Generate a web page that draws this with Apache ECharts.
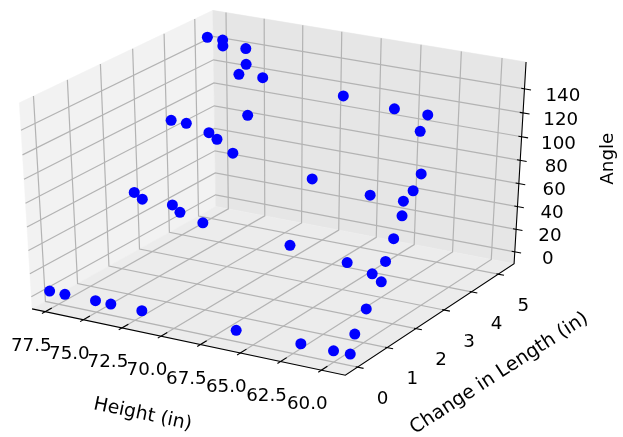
<!DOCTYPE html>
<html><body style="margin:0;background:#fff">
<div id="c" style="width:623px;height:437px"></div>
<script src="https://cdn.jsdelivr.net/npm/echarts@6/dist/echarts.min.js"></script>
<script>
// ---- view limits and perspective projection (elev 30, azim -60) ----
const xl0=78.37,xl1=58.54,yl0=-0.41,yl1=5.6,zl0=-10.7,zl1=162;
const cx=276.8,sx=3616,cy=186.6,sy=2353;
const C=Math.sqrt(3)/2;
function P(h,c,a){
  const x=(h-xl0)/(xl1-xl0)-.5,y=(c-yl0)/(yl1-yl0)-.5,z=(a-zl0)/(zl1-zl0)-.5;
  const X=C*x+.5*y, Y=-.25*x+.5*C*y+C*z, d=.5*C*x-.75*y+.5*z;
  return [cx+sx*X/(10-d),cy-sy*Y/(10-d)];
}
// ---- data ----
const heightsA = [78.32,77.31,75.30,74.30,72.29,66.28,62.25,60.24,59.22];
const changeA  = [0.12,0.12,0.12,0.12,0.12,0.12,0.12,0.12,0.12];
const angleA   = [-3.3,-3.4,-3.4,-3.5,-3.7,-3.6,-3.5,-3.7,-3.5];
const heightsB = heightsA;
const changeB  = [2.87,2.64,2.63,2.38,2.12,1.89,1.64,1.38,1.12];
const angleB   = [41.8,41.8,42.0,41.8,41.8,41.7,41.6,41.6,41.7];
const heightsC = heightsA;
const changeC  = [4.13,4.13,3.87,3.63,3.13,2.62,2.38,2.39,1.77];
const angleC   = [87.1,86.9,87.1,87.1,87.0,87.2,87.2,87.2,86.8];
const heightsD = heightsA;
const changeD  = [5.38,5.38,5.13,5.18,3.59,3.64,3.14,3.14,2.30];
const angleD   = [142.1,141.9,142.2,119.1,155.1,142.1,147.5,147.3,147.9];
const heightsE = [75.30,74.30,72.29,62.25,62.25,60.24,60.24,59.22,59.22];
const changeE  = [4.37,4.38,3.63,4.16,3.89,2.09,1.83,0.63,0.26];
const angleE   = [153.9,132.2,112.2,79.6,69.1,60.3,45.1,26.6,11.3];
const xTicks = [77.5,75,72.5,70,67.5,65,62.5,60];
const yTicks = [0,1,2,3,4,5];
const zTicks = [0,20,40,60,80,100,120,140];
const xTitle = 'Height (in)', yTitle = 'Change in Length (in)', zTitle = 'Angle';

const FONT='"DejaVu Sans"', FS=18.3;
const panes=[
  {fill:'#f2f2f2',pts:[P(xl0,yl0,zl0),P(xl0,yl1,zl0),P(xl0,yl1,zl1),P(xl0,yl0,zl1)]},
  {fill:'#e6e6e6',pts:[P(xl0,yl1,zl0),P(xl1,yl1,zl0),P(xl1,yl1,zl1),P(xl0,yl1,zl1)]},
  {fill:'#ececec',pts:[P(xl0,yl0,zl0),P(xl1,yl0,zl0),P(xl1,yl1,zl0),P(xl0,yl1,zl0)]}
];
const grid=[
  ...xTicks.map(h=>[P(h,yl0,zl0),P(h,yl1,zl0),P(h,yl1,zl1)]),
  ...yTicks.map(c=>[P(xl1,c,zl0),P(xl0,c,zl0),P(xl0,c,zl1)]),
  ...zTicks.map(a=>[P(xl1,yl1,a),P(xl0,yl1,a),P(xl0,yl0,a)])
];
const axes=[
  [P(xl0,yl0,zl0),P(xl1,yl0,zl0),P(xl1,yl1,zl0),P(xl1,yl1,zl1)],
  ...xTicks.map(h=>[P(h,yl0-.1,zl0),P(h,yl0+.2,zl0)]),
  ...yTicks.map(c=>[P(xl1+.12,c,zl0),P(xl1-.36,c,zl0)]),
  ...zTicks.map(a=>[P(xl1+.2,yl1,a),P(xl1-.4,yl1,a)])
];
function pane(){return {type:'custom',coordinateSystem:'cartesian2d',silent:true,z:1,clip:false,
  data:panes.map((p,i)=>[i]),
  renderItem:(ps,api)=>{const p=panes[api.value(0)];
    return {type:'polygon',shape:{points:p.pts.map(q=>api.coord(q))},style:{fill:p.fill,stroke:p.fill,lineWidth:.5}};}};}
function lines(list,color,w,z){return {type:'custom',coordinateSystem:'cartesian2d',silent:true,z:z,clip:false,
  data:list.map((p,i)=>[i]),
  renderItem:(ps,api)=>({type:'polyline',shape:{points:list[api.value(0)].map(q=>api.coord(q))},
    style:{fill:null,stroke:color,lineWidth:w}})};}
function labels(items,rot,fs){
  const lab={show:true,position:'inside',rotate:rot,fontFamily:FONT,fontSize:fs,color:'#000',textBorderWidth:0,opacity:1};
  return {type:'scatter',silent:true,z:5,symbolSize:1,itemStyle:{opacity:0},
  emphasis:{disabled:true},
  data:items.map(t=>({value:t.p,label:Object.assign({},lab,{formatter:t.text})})),
  label:lab};}
function add(v,dx,dy){return [v[0]+dx,v[1]+dy];}
const ptsOf=(H,Ch,A)=>H.map((h,i)=>P(h,Ch[i],A[i]));
const points=[...ptsOf(heightsA,changeA,angleA),...ptsOf(heightsB,changeB,angleB),...ptsOf(heightsC,changeC,angleC),
  ...ptsOf(heightsD,changeD,angleD),...ptsOf(heightsE,changeE,angleE)];

const chart=echarts.init(document.getElementById('c'),null,{renderer:'canvas'});
chart.setOption({
  animation:false,backgroundColor:'#fff',
  grid:{left:0,right:0,top:0,bottom:0},
  xAxis:{type:'value',min:0,max:623,show:false},
  yAxis:{type:'value',min:0,max:437,inverse:true,show:false},
  series:[
    pane(),
    lines(grid,'#b3b3b3',1.2,2),
    lines(axes,'#000',1.1,3),
    {type:'scatter',z:4,symbol:'circle',symbolSize:11,itemStyle:{color:'#0000ff',opacity:1},data:points},
    labels(xTicks.map(h=>({p:add(P(h,yl0,zl0),-14,34.5),text:h.toFixed(1)})),0,FS),
    labels(yTicks.map(c=>({p:add(P(xl1,c,zl0),25,32),text:String(c)})),0,FS),
    labels(zTicks.map(a=>({p:add(P(xl1,yl1,a),33+a*.039,7),text:String(a)})),0,FS),
    labels([{p:[142.7,414.5],text:xTitle}],-12,18.8),
    labels([{p:[499.3,373.5],text:yTitle}],33,19.2),
    labels([{p:[608.5,158.7],text:zTitle}],90,FS)
  ]
});
</script>
</body></html>
